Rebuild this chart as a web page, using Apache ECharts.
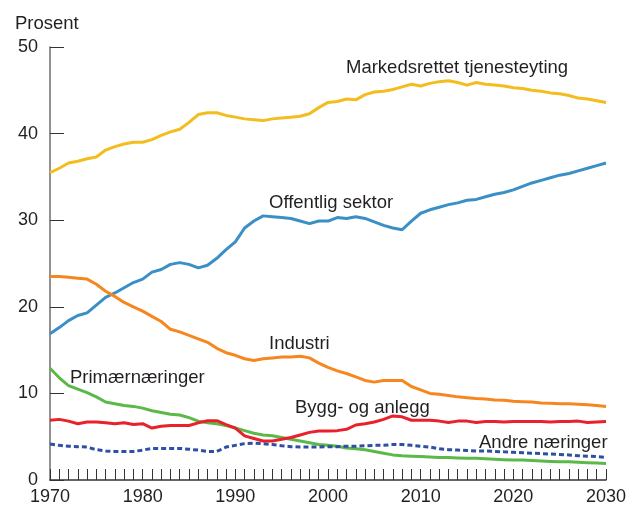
<!DOCTYPE html>
<html>
<head>
<meta charset="utf-8">
<script src="https://cdn.jsdelivr.net/npm/echarts@6/dist/echarts.min.js"></script>
<style>
  html, body { margin: 0; padding: 0; background: #fff; }
  #chart { width: 638px; height: 510px; }
</style>
</head>
<body>
<div id="chart"></div>
<script>
// år 1970-2030
var years = [];
for (var y = 1970; y <= 2030; y++) years.push(String(y));

var markedsrettet = [35.5, 36.0, 36.6, 36.8, 37.1, 37.3, 38.1, 38.5, 38.8, 39.0,
    39.0, 39.3, 39.8, 40.2, 40.5, 41.3, 42.2, 42.4, 42.4, 42.1,
    41.9, 41.7, 41.6, 41.5, 41.7, 41.8, 41.9, 42.0, 42.3, 43.0,
    43.6, 43.7, 44.0, 43.9, 44.5, 44.8, 44.9, 45.1, 45.4, 45.7,
    45.5, 45.8, 46.0, 46.1, 45.9, 45.6, 45.9, 45.7, 45.6, 45.5,
    45.3, 45.2, 45.0, 44.9, 44.7, 44.6, 44.4, 44.1, 44.0, 43.8, 43.6];

var offentlig = [16.9, 17.6, 18.4, 19.0, 19.3, 20.2, 21.1, 21.6, 22.2, 22.8,
    23.2, 24.0, 24.3, 24.9, 25.1, 24.9, 24.5, 24.8, 25.6, 26.6,
    27.5, 29.1, 29.9, 30.5, 30.4, 30.3, 30.2, 29.9, 29.6, 29.9,
    29.9, 30.3, 30.2, 30.4, 30.2, 29.8, 29.4, 29.1, 28.9, 29.9,
    30.8, 31.2, 31.5, 31.8, 32.0, 32.3, 32.4, 32.7, 33.0, 33.2,
    33.5, 33.9, 34.3, 34.6, 34.9, 35.2, 35.4, 35.7, 36.0, 36.3, 36.6];

var industri = [23.5, 23.5, 23.4, 23.3, 23.2, 22.6, 21.8, 21.2, 20.5, 20.0,
    19.5, 18.9, 18.3, 17.4, 17.1, 16.7, 16.3, 15.9, 15.2, 14.7,
    14.4, 14.0, 13.8, 14.0, 14.1, 14.2, 14.2, 14.3, 14.1, 13.5,
    13.0, 12.6, 12.3, 11.9, 11.5, 11.3, 11.5, 11.5, 11.5, 10.8,
    10.4, 10.0, 9.9, 9.75, 9.6, 9.5, 9.4, 9.35, 9.25, 9.2,
    9.1, 9.05, 9.0, 8.9, 8.85, 8.8, 8.8, 8.75, 8.7, 8.6, 8.5];

var primaer = [12.9, 11.8, 10.9, 10.5, 10.1, 9.6, 9.0, 8.8, 8.6, 8.5,
    8.3, 8.0, 7.8, 7.6, 7.5, 7.2, 6.8, 6.6, 6.5, 6.3,
    6.0, 5.7, 5.4, 5.2, 5.1, 4.9, 4.7, 4.5, 4.3, 4.1,
    4.0, 3.9, 3.7, 3.6, 3.5, 3.3, 3.1, 2.9, 2.8, 2.75,
    2.7, 2.65, 2.6, 2.6, 2.55, 2.5, 2.5, 2.45, 2.4, 2.35,
    2.3, 2.3, 2.25, 2.2, 2.15, 2.1, 2.1, 2.05, 2.0, 1.95, 1.9];

var bygg = [6.9, 7.0, 6.8, 6.5, 6.7, 6.7, 6.6, 6.5, 6.6, 6.4,
    6.5, 6.0, 6.2, 6.3, 6.3, 6.3, 6.6, 6.85, 6.85, 6.4,
    6.0, 5.1, 4.8, 4.5, 4.5, 4.7, 4.9, 5.2, 5.5, 5.65,
    5.65, 5.7, 5.85, 6.35, 6.5, 6.7, 7.0, 7.4, 7.3, 6.9,
    6.9, 6.9, 6.8, 6.65, 6.8, 6.8, 6.65, 6.75, 6.75, 6.7,
    6.75, 6.75, 6.75, 6.75, 6.7, 6.75, 6.75, 6.8, 6.65, 6.7, 6.75];

var andre = [4.15, 4.0, 3.9, 3.85, 3.8, 3.5, 3.35, 3.3, 3.3, 3.3,
    3.45, 3.65, 3.65, 3.65, 3.65, 3.55, 3.45, 3.3, 3.3, 3.8,
    4.0, 4.2, 4.25, 4.2, 4.1, 3.95, 3.85, 3.8, 3.8, 3.8,
    3.85, 3.85, 3.9, 3.9, 3.95, 4.0, 4.0, 4.1, 4.1, 4.0,
    3.9, 3.8, 3.6, 3.5, 3.45, 3.4, 3.35, 3.35, 3.3, 3.25,
    3.2, 3.15, 3.1, 3.05, 3.0, 2.95, 2.9, 2.8, 2.75, 2.7, 2.6];

var font = "'Liberation Sans', Arial, sans-serif";
var textColor = '#231f20';

function serie(name, data, color, dashed) {
    return {
        name: name,
        type: 'line',
        data: data,
        symbol: 'none',
        smooth: false,
        lineStyle: {
            color: color,
            width: 3,
            type: dashed ? [5, 3] : 'solid'
        }
    };
}

function label(text, x, y) {
    return {
        type: 'text',
        left: x,
        top: y,
        style: { text: text, fill: textColor, font: '18.5px ' + font }
    };
}

var myChart = echarts.init(document.getElementById('chart'));

var option = {
    animation: false,
    grid: { left: 50, right: 32, top: 47, bottom: 30 },
    xAxis: {
        type: 'category',
        data: years,
        boundaryGap: false,
        axisLine: { lineStyle: { color: '#333', width: 1.5 } },
        axisTick: { inside: true, length: 11, interval: 0, lineStyle: { color: '#333' } },
        axisLabel: { interval: 9, margin: 8, color: textColor, fontSize: 18, fontFamily: font },
        splitLine: { show: false }
    },
    yAxis: {
        type: 'value',
        min: 0,
        max: 50,
        interval: 10,
        axisLine: { show: true, lineStyle: { color: '#6d6d6d', width: 1.5 } },
        axisTick: { show: true, inside: true, length: 14, lineStyle: { color: '#333' } },
        axisLabel: { margin: 12, color: textColor, fontSize: 18, fontFamily: font },
        splitLine: { show: false }
    },
    series: [
        serie('Markedsrettet tjenesteyting', markedsrettet, '#f3bd1f'),
        serie('Offentlig sektor', offentlig, '#3a8fc6'),
        serie('Industri', industri, '#f6871f'),
        serie('Primærnæringer', primaer, '#5bb947'),
        serie('Bygg- og anlegg', bygg, '#e8212b'),
        serie('Andre næringer', andre, '#2f4fa3', true)
    ],
    graphic: [
        label('Prosent', 15, 14),
        label('Markedsrettet tjenesteyting', 346, 58),
        label('Offentlig sektor', 269, 193),
        label('Industri', 269, 334),
        label('Primærnæringer', 70, 368),
        label('Bygg- og anlegg', 295, 398),
        label('Andre næringer', 479, 433)
    ]
};

myChart.setOption(option);
</script>
</body>
</html>
